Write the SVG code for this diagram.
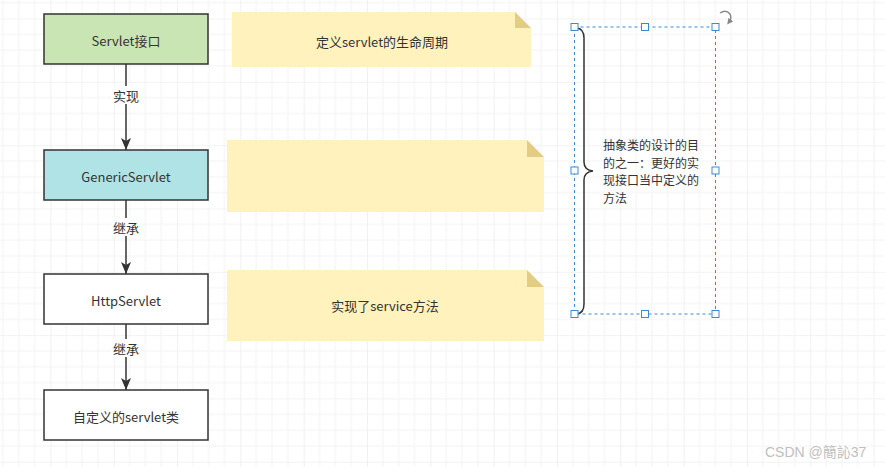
<svg xmlns="http://www.w3.org/2000/svg" width="885" height="467" viewBox="0 0 885 467">
<defs>
<pattern id="grid" patternUnits="userSpaceOnUse" x="-12.9" y="-44.8" width="63.32" height="63.32">
<path d="M15.83 0V63.32M31.66 0V63.32M47.49 0V63.32M0 15.83H63.32M0 31.66H63.32M0 47.49H63.32" stroke="#f3f3f3" stroke-width="1" fill="none"/>
<path d="M0 0V63.32M0 0H63.32" stroke="#e8e8e8" stroke-width="1.2" fill="none"/>
</pattern>
<marker id="arr" viewBox="0 0 12 10" refX="12" refY="5" markerWidth="12" markerHeight="10" markerUnits="userSpaceOnUse" orient="auto">
<path d="M0 0L12 5L0 10L3 5Z" fill="#333"/>
</marker>
<marker id="rot" viewBox="0 0 6 6" refX="3" refY="3" markerWidth="6" markerHeight="6" markerUnits="userSpaceOnUse" orient="auto">
<path d="M0 0L6 3L0 6Z" fill="#888"/>
</marker>
</defs>
<style>
.box{stroke:#333;stroke-width:1.5}
.t{font-family:"Noto Sans CJK SC","Noto Sans",sans-serif;font-size:13px;fill:#333}
.c{text-anchor:middle;dominant-baseline:central}
.note{fill:#fff2bd}
.fold{fill:#e3cd85}
.edge{stroke:#333;stroke-width:1.5;fill:none}
.lbl{fill:#fff}
.h{fill:#fff;stroke:#3b8bd4;stroke-width:1}
</style>
<rect width="885" height="467" fill="#fff"/>
<rect width="885" height="467" fill="url(#grid)"/>

<g id="connectors">
<path class="edge" d="M126 64V150" marker-end="url(#arr)"/>
<rect class="lbl" x="111" y="86" width="30" height="18"/>
<text class="t c" x="126" y="95">实现</text>
<path class="edge" d="M126 200V274" marker-end="url(#arr)"/>
<rect class="lbl" x="111" y="218" width="30" height="18"/>
<text class="t c" x="126" y="227">继承</text>
<path class="edge" d="M126 324V390" marker-end="url(#arr)"/>
<rect class="lbl" x="111" y="339" width="30" height="18"/>
<text class="t c" x="126" y="348">继承</text>
</g>

<g id="servlet">
<rect class="box" x="44" y="14" width="164" height="50" fill="#c9e5b3"/>
<text class="t c" x="126" y="40">Servlet接口</text>
</g>
<g id="generic">
<rect class="box" x="44" y="150" width="164" height="50" fill="#b0e3e6"/>
<text class="t c" x="126" y="176">GenericServlet</text>
</g>
<g id="http">
<rect class="box" x="44" y="274" width="164" height="50" fill="#fff"/>
<text class="t c" x="126" y="300">HttpServlet</text>
</g>
<g id="custom">
<rect class="box" x="44" y="390" width="164" height="50" fill="#fff"/>
<text class="t c" x="126" y="416">自定义的servlet类</text>
</g>

<g id="note1">
<path class="note" d="M232 12H515L531 28V67H232Z"/>
<path class="fold" d="M515 12L531 28H515Z"/>
<text class="t c" x="382" y="41">定义servlet的生命周期</text>
</g>
<g id="note2">
<path class="note" d="M227 140H527L544 157V212H227Z"/>
<path class="fold" d="M527 140L544 157H527Z"/>
</g>
<g id="note3">
<path class="note" d="M227 270H527L544 287V341H227Z"/>
<path class="fold" d="M527 270L544 287H527Z"/>
<text class="t c" x="385" y="305">实现了service方法</text>
</g>

<g id="brace">
<path d="M577 28Q584 29 584 38V162Q584 170 593 171Q584 172 584 180V304Q584 313 577 314" stroke="#333" stroke-width="1.5" fill="none"/>
<text class="t" style="font-size:12px"><tspan x="603" y="150">抽象类的设计的目</tspan><tspan x="603" y="167.5">的之一：更好的实</tspan><tspan x="603" y="185">现接口当中定义的</tspan><tspan x="603" y="202.5">方法</tspan></text>
</g>

<g id="selection">
<rect x="574.5" y="27" width="141" height="287" fill="none" stroke="#3b8bd4" stroke-width="1" stroke-dasharray="3 3"/>
<rect class="h" x="571" y="23.5" width="7" height="7"/>
<rect class="h" x="641.5" y="23.5" width="7" height="7"/>
<rect class="h" x="712" y="23.5" width="7" height="7"/>
<rect class="h" x="571" y="167" width="7" height="7"/>
<rect class="h" x="712" y="167" width="7" height="7"/>
<rect class="h" x="571" y="310.5" width="7" height="7"/>
<rect class="h" x="641.5" y="310.5" width="7" height="7"/>
<rect class="h" x="712" y="310.5" width="7" height="7"/>
<path d="M720 13Q726 9 730 14Q732 18 729 22" stroke="#888" stroke-width="1.5" fill="none" marker-end="url(#rot)"/>
</g>

<text x="765" y="457" font-family="Liberation Sans,Noto Sans CJK TC,sans-serif" font-size="14" fill="#c0c0c0">CSDN @簡訫37</text>
</svg>
